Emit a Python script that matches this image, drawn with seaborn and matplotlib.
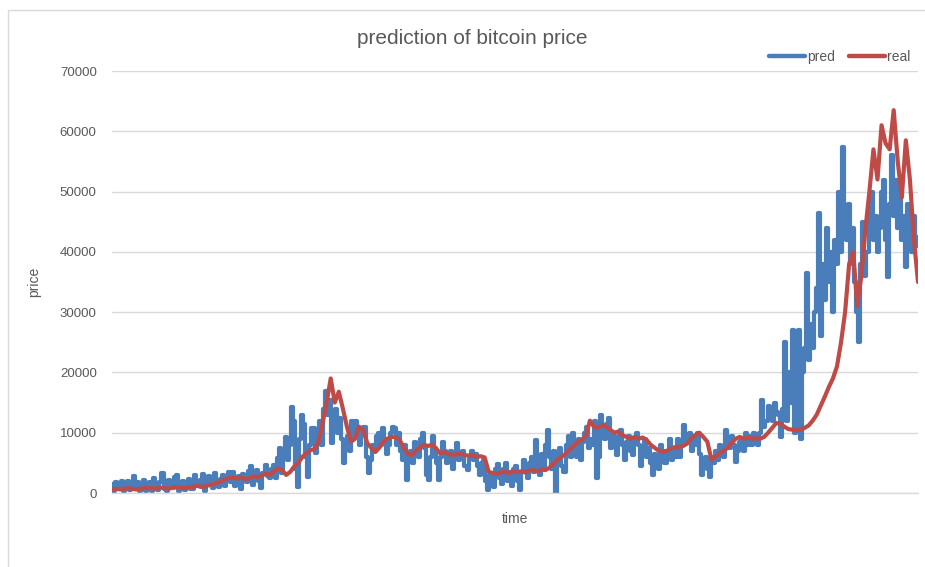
import numpy as np
import pandas as pd
import matplotlib
matplotlib.use("Agg")
import matplotlib.pyplot as plt
from matplotlib.patches import Rectangle
from matplotlib.lines import Line2D
import seaborn as sns

# Bitcoin price (USD thousands) over the test window: actual closing price
real_k = [
    0.6, 0.7, 0.6, 0.7, 0.8, 0.7, 0.6, 0.7, 0.8, 0.8,
    0.8, 0.7, 0.9, 0.8, 0.7, 0.9, 1.0, 0.9, 0.8, 1.0,
    1.0, 1.2, 1.0, 1.1, 1.3, 1.5, 1.7, 2.0, 2.3, 2.5,
    2.5, 2.4, 2.6, 2.3, 2.5, 2.8, 2.6, 2.9, 3.2, 3.0,
    3.6, 4.1, 3.8, 3.0, 3.5, 4.4, 5.0, 6.0, 6.6, 7.1,
    7.3, 8.5, 11.6, 15.0, 19.0, 15.0, 16.8, 14.0, 11.0, 8.5,
    9.0, 11.0, 10.5, 8.3, 7.5, 6.8, 7.5, 8.5, 9.0, 9.3,
    9.3, 8.8, 7.6, 6.5, 6.3, 7.0, 7.5, 8.0, 7.8, 8.0,
    7.4, 6.6, 6.8, 6.5, 6.3, 6.4, 6.5, 6.3, 6.2, 6.3,
    6.0, 6.1, 5.9, 3.5, 3.3, 3.2, 3.4, 3.5, 3.3, 3.6,
    3.5, 3.6, 3.4, 3.7, 3.8, 3.6, 3.9, 3.8, 4.2, 4.8,
    5.5, 6.0, 6.5, 7.2, 7.8, 8.5, 8.8, 9.5, 12.0, 11.0,
    10.8, 11.3, 11.0, 10.5, 10.0, 10.2, 9.6, 9.3, 9.0, 9.3,
    9.0, 9.2, 8.8, 8.0, 7.5, 7.0, 6.8, 7.0, 7.4, 7.6,
    7.6, 7.8, 8.2, 9.0, 9.6, 10.0, 9.3, 8.5, 5.5, 6.0,
    6.6, 7.0, 7.5, 8.3, 9.0, 9.3, 9.0, 9.2, 9.0, 9.1,
    9.0, 9.3, 10.0, 10.8, 11.6, 11.5, 11.0, 10.6, 10.5, 10.4,
    10.5, 10.8, 11.2, 12.0, 13.0, 14.5, 16.0, 17.6, 19.0, 21.0,
    25.0, 30.0, 38.0, 40.0, 31.0, 36.0, 43.6, 50.0, 57.0, 52.0,
    61.0, 58.0, 57.0, 63.5, 55.0, 49.0, 58.5, 52.0, 42.0, 35.0,
]

# Model output (USD thousands), sampled twice as often as the actual price
pred_k = [
    1.5, 0.4, 1.8, 0.8, 0.6, 2.0, 0.3, 1.4, 2.0, 0.5, 1.2, 2.8, 0.6, 1.9, 0.4, 1.6, 2.2, 0.3, 1.0, 1.8,
    0.3, 2.5, 1.0, 0.5, 1.9, 3.3, 0.6, 0.4, 2.2, 1.5, 0.8, 2.6, 3.0, 0.3, 1.2, 2.0, 0.5, 1.7, 2.4, 0.6,
    0.6, 3.0, 1.8, 1.2, 2.2, 3.2, 0.4, 1.9, 2.8, 1.5, 0.9, 3.4, 2.0, 1.0, 2.4, 3.0, 1.2, 2.6, 3.5, 1.8,
    3.5, 1.2, 2.2, 2.9, 0.6, 3.2, 2.4, 1.8, 3.6, 4.5, 1.4, 2.6, 3.8, 2.0, 0.8, 3.4, 4.6, 2.8, 2.5, 4.0,
    4.6, 2.5, 5.8, 7.5, 3.3, 6.2, 9.3, 5.5, 8.0, 14.3, 12.0, 4.0, 1.0, 9.0, 13.0, 11.5, 6.0, 2.6, 8.0, 10.8,
    10.8, 6.6, 9.0, 12.0, 8.0, 14.0, 17.0, 13.0, 15.5, 8.3, 11.0, 14.0, 10.0, 12.5, 9.0, 5.0, 8.0, 9.5, 7.0, 12.0,
    9.5, 12.0, 10.0, 8.0, 10.5, 11.0, 6.0, 3.3, 5.5, 8.0, 7.0, 9.5, 10.0, 8.0, 10.8, 9.0, 6.5, 8.0, 10.0, 11.0,
    10.8, 8.0, 10.0, 7.0, 5.5, 8.0, 2.2, 6.0, 7.0, 5.0, 8.5, 6.5, 6.0, 9.0, 10.0, 7.5, 3.0, 2.2, 6.0, 9.5,
    7.5, 5.0, 2.2, 6.0, 8.5, 7.0, 5.0, 6.5, 7.0, 4.0, 6.5, 8.3, 5.5, 6.0, 7.0, 4.5, 3.8, 6.0, 7.0, 5.5,
    6.5, 4.5, 3.0, 5.0, 5.5, 2.0, 0.5, 3.0, 2.5, 1.0, 4.0, 4.8, 2.5, 1.5, 4.0, 5.0, 2.0, 3.5, 1.2, 4.0,
    4.5, 2.0, 0.5, 3.5, 5.5, 4.0, 2.5, 5.0, 6.0, 3.5, 8.8, 5.5, 3.0, 6.5, 4.5, 8.0, 10.5, 6.0, 4.0, 7.0,
    0.0, 5.0, 7.5, 4.5, 3.5, 8.0, 9.5, 6.0, 10.0, 7.0, 6.0, 9.0, 5.5, 8.5, 10.0, 11.0, 7.5, 9.0, 8.0, 12.0,
    2.5, 6.0, 13.0, 10.0, 9.0, 11.5, 12.5, 7.5, 10.0, 9.0, 6.3, 9.5, 10.5, 8.0, 5.5, 8.5, 9.5, 7.0, 6.3, 9.0,
    10.0, 8.0, 4.5, 7.0, 9.0, 6.0, 7.5, 5.0, 3.0, 6.5, 5.5, 4.0, 8.0, 7.0, 5.0, 6.5, 9.0, 5.5, 7.5, 6.0,
    9.0, 6.0, 8.5, 11.3, 9.0, 8.5, 10.0, 7.0, 9.5, 8.0, 10.0, 6.5, 3.0, 5.5, 6.0, 4.0, 2.6, 6.0, 5.0, 7.0,
    5.5, 8.0, 6.5, 6.0, 10.5, 8.5, 7.5, 9.5, 8.0, 5.1, 7.0, 8.5, 9.0, 7.0, 10.0, 8.0, 9.5, 8.0, 10.0, 9.0,
    8.0, 10.0, 15.4, 11.0, 12.0, 14.5, 13.0, 12.0, 15.0, 13.5, 13.0, 9.3, 14.0, 25.0, 12.0, 20.0, 15.0, 27.0, 10.0, 22.0,
    27.0, 9.0, 20.0, 24.0, 36.5, 22.0, 28.0, 24.0, 30.0, 34.0, 46.4, 26.0, 38.0, 32.0, 44.0, 35.0, 40.0, 30.0, 42.0, 38.0,
    50.0, 40.0, 57.4, 46.0, 42.0, 48.0, 38.0, 44.0, 35.0, 30.0, 25.0, 38.0, 45.0, 36.0, 40.0, 48.0, 50.0, 42.0, 46.0, 40.0,
    44.0, 50.0, 52.0, 42.0, 35.8, 48.0, 56.0, 46.0, 52.0, 44.0, 50.0, 42.0, 46.0, 37.5, 48.0, 44.0, 40.0, 46.0, 42.5, 41.0,
]

y_ticks = [0, 10000, 20000, 30000, 40000, 50000, 60000, 70000]
series_names = ["pred", "real"]
series_colors = ["#4A7EBB", "#BE4B48"]

t_real = np.arange(len(real_k), dtype=float)
t_pred = np.linspace(0, len(real_k) - 1, len(pred_k))
pred_df = pd.DataFrame({"time": t_pred, "price": np.array(pred_k) * 1000})
real_df = pd.DataFrame({"time": t_real, "price": np.array(real_k) * 1000})

sns.set_theme(style="white")
plt.rcParams["font.family"] = ["Liberation Sans", "DejaVu Sans"]

fig = plt.figure(figsize=(9.25, 5.67), dpi=100)
ax = fig.add_axes([112 / 925, 1 - 493 / 567, (918 - 112) / 925, (493 - 71) / 567])

sns.lineplot(data=pred_df, x="time", y="price", color=series_colors[0],
             linewidth=3.0, ax=ax, estimator=None, sort=False,
             drawstyle="steps-mid")
sns.lineplot(data=real_df, x="time", y="price", color=series_colors[1],
             linewidth=3.0, ax=ax, estimator=None, sort=False)

ax.set_xlim(0, len(real_k) - 1)
ax.set_ylim(0, 70000)
ax.set_yticks(y_ticks)
ax.set_yticklabels([str(v) for v in y_ticks])
ax.set_xticks([])
ax.grid(axis="y", color="#D9D9D9", linewidth=1.0)
ax.set_axisbelow(True)
for side in ["top", "right", "left"]:
    ax.spines[side].set_visible(False)
ax.spines["bottom"].set_color("#D9D9D9")
ax.spines["bottom"].set_linewidth(1.0)
ax.tick_params(axis="y", length=0, pad=11, labelsize=9.5, labelcolor="#595959")

ax.set_xlabel("time", fontsize=10, color="#595959", labelpad=14)
ax.set_ylabel("price", fontsize=10, color="#595959")
ax.yaxis.set_label_coords(-0.088, 0.5)

fig.text(472 / 925, 1 - 38 / 567, "prediction of bitcoin price", ha="center",
         va="center", fontsize=15, color="#595959")

# legend along the top right of the chart area
handles = [Line2D([0], [0], color=c, linewidth=3.2) for c in series_colors]
fig.legend(handles, series_names, loc="center right",
           bbox_to_anchor=(916 / 925, 1 - 57 / 567), ncol=2, frameon=False,
           fontsize=10, labelcolor="#595959", handlelength=2.6,
           handletextpad=0.15, columnspacing=1.0, borderaxespad=0)

# chart-area border
fig.patches.append(Rectangle((8 / 925, -0.05), 1.2, 1 - 10 / 567 + 0.05,
                             transform=fig.transFigure, fill=False,
                             edgecolor="#D9D9D9", linewidth=1.0))

fig.savefig("out.png", dpi=100, facecolor="white")
